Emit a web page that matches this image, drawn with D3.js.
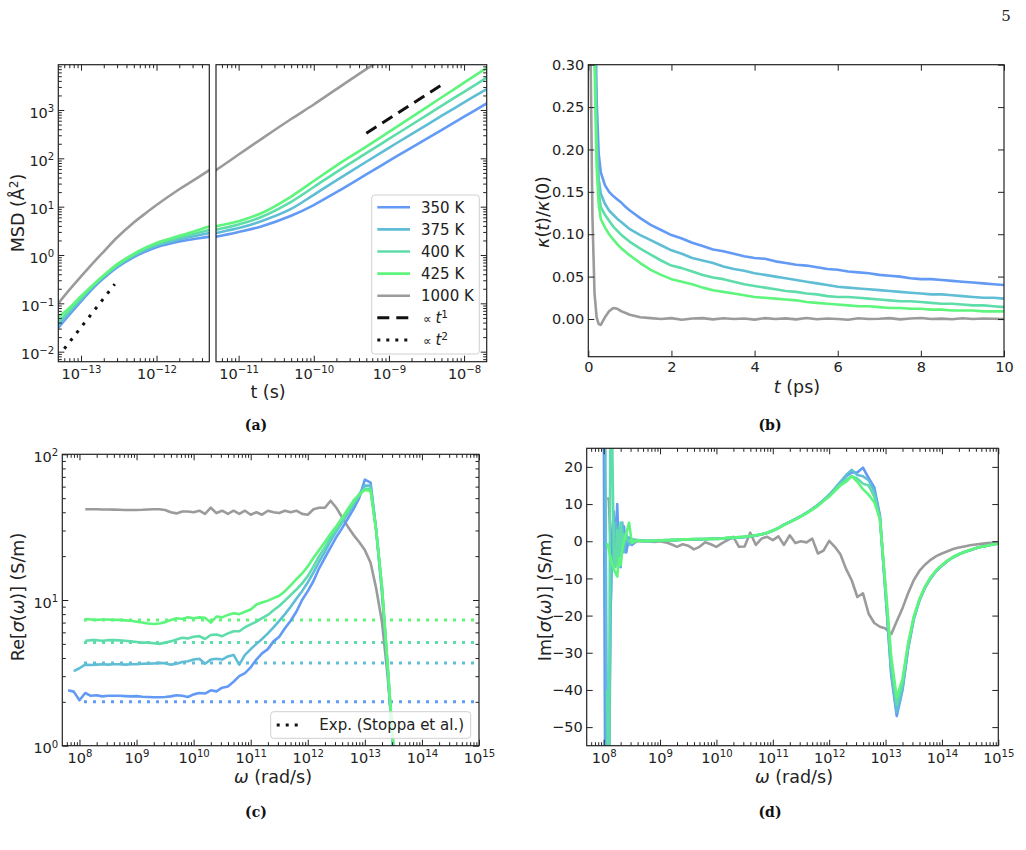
<!DOCTYPE html>
<html>
<head>
<meta charset="utf-8">
<script src="https://cdn.jsdelivr.net/npm/d3@7/dist/d3.min.js"></script>
<style>
  body { margin: 0; background: #fff; }
</style>
</head>
<body>
<script>
// ---------------- data ----------------
var temps = ['350 K', '375 K', '400 K', '425 K', '1000 K'];
var colors = ['#639af5', '#5fbdd5', '#5edcaa', '#5ef57c', '#9b9b9b'];

// (a) MSD (A^2) vs t (s)
var msdTime = [5e-14, 7e-14, 1e-13, 1.5e-13, 2e-13, 3e-13, 5e-13, 7e-13, 1e-12, 2e-12, 3e-12, 5e-12,
  1e-11, 2e-11, 5e-11, 1e-10, 2e-10, 5e-10, 1e-9, 2e-9, 5e-9, 1e-8, 2e-8];
var msd350 = [0.031, 0.058, 0.11, 0.22, 0.33, 0.55, 0.9, 1.17, 1.45, 1.9, 2.12, 2.4,
  3.0, 3.9, 6.5, 10.8, 19.9, 46.5, 88.5, 167, 385, 725, 1370];
var msd375 = [0.035, 0.064, 0.12, 0.235, 0.35, 0.58, 0.96, 1.25, 1.56, 2.1, 2.42, 2.85,
  3.6, 5.0, 9.0, 17.6, 35, 85, 165, 318, 752, 1434, 2710];
var msd400 = [0.042, 0.07, 0.13, 0.245, 0.37, 0.61, 1.01, 1.32, 1.66, 2.3, 2.7, 3.3,
  4.3, 6.1, 12.6, 25.5, 52, 128, 252, 495, 1213, 2380, 4670];
var msd425 = [0.052, 0.08, 0.14, 0.255, 0.38, 0.64, 1.06, 1.4, 1.78, 2.5, 3.0, 3.9,
  5.0, 7.3, 16.2, 34, 70.8, 175, 352, 712, 1814, 3670, 7420];
var msd1000 = [0.1, 0.19, 0.36, 0.73, 1.18, 2.3, 4.7, 7.1, 10.8, 22.9, 34, 57,
  120, 250, 650, 1300, 2700, 7000, 14000, 28000, 70000, 140000, 280000];
var slope1Ref = [[5e-10, 330], [5e-9, 3300]];
var slope2Ref = [[6e-14, 0.0115], [2.8e-13, 0.25]];

// (b) kappa(t)/kappa(0) vs t (ps)
var kappaTime = [0, 0.05, 0.1, 0.15, 0.2, 0.25, 0.3, 0.4, 0.5, 0.6, 0.7, 0.8, 0.9, 1.0,
  1.25, 1.5, 1.75, 2.0, 2.25, 2.5, 2.75, 3.0, 3.25, 3.5, 3.75, 4.0, 4.25, 4.5, 4.75, 5.0,
  5.25, 5.5, 5.75, 6.0, 6.25, 6.5, 6.75, 7.0, 7.25, 7.5, 7.75, 8.0, 8.25, 8.5, 8.75, 9.0,
  9.25, 9.5, 9.75, 10.0];
var kappa350 = [1.0, 0.93, 0.72, 0.42, 0.26, 0.195, 0.173, 0.158, 0.150, 0.145, 0.141, 0.137, 0.132, 0.128,
  0.119, 0.111, 0.105, 0.099, 0.095, 0.090, 0.086, 0.082, 0.080, 0.077, 0.074, 0.072, 0.071, 0.068, 0.066, 0.064,
  0.063, 0.061, 0.059, 0.058, 0.056, 0.055, 0.054, 0.052, 0.051, 0.050, 0.048, 0.047, 0.047, 0.046, 0.045, 0.044,
  0.043, 0.042, 0.041, 0.040];
var kappa375 = [1.0, 0.92, 0.68, 0.36, 0.22, 0.165, 0.148, 0.136, 0.128, 0.123, 0.118, 0.114, 0.110, 0.106,
  0.099, 0.093, 0.087, 0.081, 0.077, 0.072, 0.069, 0.066, 0.062, 0.059, 0.057, 0.054, 0.052, 0.050, 0.048, 0.046,
  0.044, 0.042, 0.040, 0.038, 0.037, 0.036, 0.035, 0.034, 0.033, 0.032, 0.031, 0.030, 0.029, 0.029, 0.028, 0.027,
  0.026, 0.025, 0.025, 0.024];
var kappa400 = [1.0, 0.91, 0.65, 0.33, 0.2, 0.15, 0.132, 0.123, 0.116, 0.109, 0.104, 0.099, 0.095, 0.091,
  0.083, 0.076, 0.069, 0.063, 0.060, 0.056, 0.052, 0.049, 0.047, 0.044, 0.041, 0.039, 0.037, 0.035, 0.033, 0.032,
  0.030, 0.029, 0.027, 0.026, 0.026, 0.025, 0.024, 0.023, 0.022, 0.021, 0.021, 0.020, 0.019, 0.018, 0.018, 0.017,
  0.016, 0.016, 0.015, 0.014];
var kappa425 = [1.0, 0.9, 0.62, 0.3, 0.18, 0.135, 0.118, 0.108, 0.100, 0.094, 0.088, 0.083, 0.079, 0.075,
  0.066, 0.058, 0.052, 0.047, 0.044, 0.041, 0.037, 0.034, 0.032, 0.030, 0.028, 0.026, 0.025, 0.024, 0.023, 0.022,
  0.020, 0.019, 0.018, 0.017, 0.016, 0.015, 0.015, 0.014, 0.013, 0.013, 0.012, 0.012, 0.011, 0.011, 0.010, 0.010,
  0.010, 0.009, 0.009, 0.009];
var kappa1000 = [1.0, 0.33, 0.12, 0.03, 0.002, -0.006, -0.007, 0.002, 0.009, 0.013, 0.012, 0.009, 0.007, 0.005,
  0.002, 0.001, 0.0, 0.001, -0.001, 0.0005, 0.001, -0.0005, 0.0008, 0.0, 0.0005, -0.0008, 0.001, 0.0, 0.0007, -0.0005,
  0.0012, -0.0003, 0.0005, 0.0, -0.001, 0.0008, 0.0, 0.0003, 0.001, -0.0005, 0.0005, 0.0012, 0.0, 0.0004, -0.0003, 0.0008,
  0.0, 0.0005, 0.0002, 0.0];

// (c) Re[sigma(omega)] (S/m) vs omega (rad/s)
var omegaRe = [6.31e7, 7.94e7, 1e8, 1.26e8, 1.58e8, 2e8, 2.51e8, 3.16e8, 3.98e8, 5.01e8, 6.31e8, 7.94e8,
  1e9, 1.26e9, 1.58e9, 2e9, 2.51e9, 3.16e9, 3.98e9, 5.01e9, 6.31e9, 7.94e9,
  1e10, 1.26e10, 1.58e10, 2e10, 2.51e10, 3.16e10, 3.98e10, 5.01e10, 6.31e10, 7.94e10,
  1e11, 1.26e11, 1.58e11, 2e11, 2.51e11, 3.16e11, 3.98e11, 5.01e11, 6.31e11, 7.94e11,
  1e12, 1.26e12, 1.58e12, 2e12, 2.51e12, 3.16e12, 3.98e12, 5.01e12, 6.31e12, 7.94e12,
  1e13, 1.26e13, 1.58e13, 2e13, 2.51e13, 3.16e13];
var re350 = [2.4, 2.35, 2.05, 2.3, 2.2, 2.22, 2.18, 2.2, 2.2, 2.2, 2.19, 2.18,
  2.19, 2.17, 2.16, 2.15, 2.15, 2.16, 2.18, 2.22, 2.2, 2.16,
  2.25, 2.3, 2.28, 2.4, 2.36, 2.5, 2.55, 2.75, 3.0, 3.15,
  3.45, 3.9, 4.3, 4.6, 5.2, 5.6, 6.4, 7.2, 8.3, 10.0,
  11.5, 13.5, 16.5, 19.5, 23, 27, 31, 36, 42, 50,
  67, 64, 30, 11, 3.3, 0.9];
var re375 = [null, 3.25, 3.4, 3.6, 3.58, 3.6, 3.62, 3.6, 3.62, 3.62, 3.6, 3.62,
  3.63, 3.65, 3.66, 3.67, 3.7, 3.68, 3.6, 3.65, 3.75, 3.8,
  3.9, 3.95, 3.65, 3.9, 3.95, 3.9, 4.1, 4.2, 3.6, 4.2,
  4.6, 5.0, 5.4, 5.9, 6.5, 7.2, 8.0, 9.0, 10.2, 11.5,
  13.2, 15.5, 18.3, 21.5, 25.5, 29.5, 34, 39, 45, 53,
  61, 61, 30, 12, 3.4, 0.9];
var re400 = [null, null, null, 5.25, 5.3, 5.3, 5.25, 5.3, 5.3, 5.28, 5.25, 5.2,
  5.15, 5.1, 5.1, 5.05, 5.0, 5.1, 5.2, 5.35, 5.5, 5.45,
  5.6, 5.65, 5.4, 5.75, 5.8, 5.65, 5.9, 6.1, 6.1, 6.5,
  6.8, 7.1, 7.5, 7.9, 8.5, 9.1, 9.9, 10.8, 11.8, 13.0,
  14.6, 17, 20, 23, 27, 30.5, 35, 40, 46, 52,
  58, 58, 30, 12, 3.5, 0.95];
var re425 = [null, null, null, 7.4, 7.35, 7.3, 7.35, 7.35, 7.3, 7.3, 7.25, 7.2,
  7.1, 7.0, 6.9, 6.85, 6.9, 7.05, 7.3, 7.5, 7.4, 7.6,
  7.5, 7.6, 7.55, 7.0, 7.7, 7.6, 7.9, 8.1, 8.0, 8.3,
  8.6, 9.3, 9.6, 9.9, 10.3, 10.7, 11.5, 12.6, 13.9, 15.2,
  17.0, 19.5, 22, 25, 28.5, 32, 36.5, 42, 48, 53,
  57, 56, 30, 12, 3.6, 1.0];
var re1000 = [null, null, null, 42, 42, 42, 41.8, 41.8, 41.7, 41.6, 41.5, 41.5,
  41.5, 41.6, 41.8, 42, 42, 41.5, 40, 39.3, 40.5, 40.5,
  40, 41, 39, 43, 39.5, 41, 39, 41, 39, 41,
  38.5, 40, 38.5, 41, 40, 39.5, 41, 40, 41, 39,
  38.5, 42, 43, 43, 48, 43, 37, 32, 28, 25,
  22, 18, 12, 7, 3, 1.0];
var expSigma = [2.0, 3.7, 5.1, 7.3];
var expRange = [1.2e8, 1e15];

// (d) Im[sigma(omega)] (S/m) vs omega (rad/s)
var omegaIm = [1e8, 1.07e8, 1.15e8, 1.23e8, 1.32e8, 1.41e8, 1.51e8, 1.62e8, 1.74e8, 1.86e8, 2e8, 2.14e8,
  2.29e8, 2.51e8, 2.82e8, 3.16e8,
  3.98e8, 5.01e8, 6.31e8, 7.94e8,
  1e9, 1.26e9, 1.58e9, 2e9, 2.51e9, 3.16e9, 3.98e9, 5.01e9, 6.31e9, 7.94e9,
  1e10, 1.26e10, 1.58e10, 2e10, 2.51e10, 3.16e10, 3.98e10, 5.01e10, 6.31e10, 7.94e10,
  1e11, 1.26e11, 1.58e11, 2e11, 2.51e11, 3.16e11, 3.98e11, 5.01e11, 6.31e11, 7.94e11,
  1e12, 1.26e12, 1.58e12, 2e12, 2.51e12, 3.16e12, 3.98e12, 5.01e12, 6.31e12, 7.94e12,
  1e13, 1.26e13, 1.58e13, 2e13, 2.51e13, 3.16e13, 3.98e13, 5.01e13, 6.31e13, 7.94e13,
  1e14, 1.26e14, 1.58e14, 2e14, 2.51e14, 3.16e14, 3.98e14, 5.01e14, 6.31e14, 7.94e14,
  1e15];
var im350 = [40, -75, -70, -62, -20, 2, 8, -3, 10, -4, -7, 3, 4, -3, 1, -1,
  0.2, 0.0, 0.1, 0.1,
  0.2, 0.2, 0.3, 0.3, 0.4, 0.5, 0.5, 0.5, 0.6, 0.6,
  0.6, 0.7, 0.8, 0.9, 1.0, 1.1, 1.3, 1.5, 1.8, 2.2,
  2.8, 3.6, 4.4, 5.2, 5.9, 6.7, 7.6, 8.6, 9.7, 11.0,
  12.4, 14.0, 15.8, 17.5, 18.5, 18.5, 19.8, 17.0, 14.5, 7.0,
  -14, -36, -47, -40, -29, -21, -16, -12.5, -10, -8,
  -6.6, -5.3, -4.3, -3.5, -2.9, -2.4, -1.9, -1.5, -1.2, -0.9,
  -0.6];
var im375 = [null, 25, -65, -80, -20, -4, -7, 5, -6, 4, -4, 5, -3, 2, -1, 0.5,
  0.3, 0.1, 0.0, 0.1,
  0.2, 0.3, 0.3, 0.4, 0.4, 0.5, 0.6, 0.6, 0.6, 0.7,
  0.7, 0.8, 0.8, 1.0, 1.0, 1.2, 1.4, 1.6, 1.9, 2.3,
  2.9, 3.6, 4.5, 5.2, 6.0, 6.8, 7.7, 8.7, 9.8, 11.1,
  12.5, 14.2, 16.0, 17.8, 19.2, 17.8, 17.5, 16.4, 13.5, 6.5,
  -14, -35, -46, -39.5, -28.7, -20.9, -15.9, -12.4, -9.9, -7.9,
  -6.5, -5.3, -4.3, -3.5, -2.9, -2.4, -1.9, -1.5, -1.2, -0.9,
  -0.6];
var im400 = [null, null, -40, -80, 40, 30, -4, -7, 3, -5, 5, -2, 2, 1, 0, 0.3,
  0.1, 0.2, 0.1, 0.0,
  0.2, 0.2, 0.3, 0.3, 0.4, 0.4, 0.5, 0.6, 0.5, 0.6,
  0.7, 0.7, 0.9, 0.9, 1.1, 1.2, 1.3, 1.6, 1.9, 2.3,
  2.8, 3.5, 4.4, 5.1, 5.9, 6.7, 7.6, 8.6, 9.6, 10.9,
  12.2, 13.8, 15.4, 16.5, 17.5, 16.8, 15.5, 15.0, 12.0, 6.0,
  -13, -33, -44, -38, -28, -20.6, -15.8, -12.3, -9.8, -7.9,
  -6.5, -5.2, -4.3, -3.5, -2.9, -2.4, -1.9, -1.5, -1.2, -0.9,
  -0.6];
var im425 = [null, null, -0.5, -2, -4.5, -6, -7.5, -8.5, -9.5, -4.5, -6.5, -2, 0, 2, 5, -0.5,
  0.3, 0.0, 0.1, 0.2,
  0.2, 0.3, 0.3, 0.4, 0.5, 0.5, 0.6, 0.6, 0.6, 0.7,
  0.6, 0.7, 1.0, 0.9, 1.1, 1.2, 1.4, 1.6, 1.8, 2.3,
  2.9, 3.6, 4.4, 5.2, 5.9, 6.7, 7.5, 8.5, 9.5, 10.8,
  12.0, 13.5, 15.0, 16.0, 17.5, 16.0, 14.0, 12.5, 10.5, 6.0,
  -12, -31, -42, -37, -27.5, -20.3, -15.6, -12.2, -9.7, -7.8,
  -6.4, -5.2, -4.2, -3.5, -2.9, -2.3, -1.9, -1.5, -1.2, -0.9,
  -0.6];
var im1000 = [null, null, 11.5, 11.5, 0, -5, 2, 4, -3, 1, 2, -1, 0, 0.5, 0, 0,
  0, 0.1, 0, -0.2,
  0, -0.3, -0.8, -1.5, -0.8, -1.2, -2.2, -1.5, -0.3, -0.8,
  -1.5, -0.5, 0.3, 1.2, -1.5, -1.4, 2.3, -1.0, 0.7, 1.2,
  0.3, 1.3, -1.0, 1.6, -0.5, 0.0, -0.3, 0.7, -3.3, -2.5,
  0.1, -1.5, -3.5, -7.5, -10.5, -15, -14, -19.5, -22, -23,
  -23.5, -25, -21.5, -18, -14, -10.5, -8, -6.3, -5, -4,
  -3.3, -2.7, -2.1, -1.7, -1.4, -1.1, -0.9, -0.7, -0.5, -0.4,
  -0.3];

var msdSeries = [msd350, msd375, msd400, msd425, msd1000];
var kappaSeries = [kappa350, kappa375, kappa400, kappa425, kappa1000];
var reSeries = [re350, re375, re400, re425, re1000];
var imSeries = [im350, im375, im400, im425, im1000];

// ---------------- drawing ----------------
var ink = '#222';
var font = '"DejaVu Sans", sans-serif';
var svg = d3.select('body').append('svg').attr('width', 1026).attr('height', 850)
  .attr('font-family', font);
svg.append('rect').attr('width', 1026).attr('height', 850).attr('fill', '#fff');
var defs = svg.append('defs');

function plotArea(id, x, y) {
  defs.append('clipPath').attr('id', id).append('rect')
    .attr('x', x.range()[0]).attr('y', y.range()[1])
    .attr('width', x.range()[1] - x.range()[0]).attr('height', y.range()[0] - y.range()[1]);
  return svg.append('g').attr('clip-path', 'url(#' + id + ')');
}

function frame(x, y) {
  svg.append('rect').attr('x', x.range()[0]).attr('y', y.range()[1])
    .attr('width', x.range()[1] - x.range()[0]).attr('height', y.range()[0] - y.range()[1])
    .attr('fill', 'none').attr('stroke', ink).attr('stroke-width', 1.2);
}

function powText(text, v) {
  var e = Math.round(Math.log10(v));
  text.text(null);
  text.append('tspan').text('10');
  text.append('tspan').attr('dy', '-0.55em').attr('font-size', '0.7em').text(e < 0 ? '\u2212' + (-e) : String(e));
}

function ticks(orient, scale, pos, values, size, fmt, pad) {
  var maker = {bottom: d3.axisBottom, top: d3.axisTop, left: d3.axisLeft, right: d3.axisRight}[orient];
  var horiz = orient === 'bottom' || orient === 'top';
  var g = svg.append('g')
    .attr('transform', horiz ? 'translate(0,' + pos + ')' : 'translate(' + pos + ',0)')
    .call(maker(scale).tickValues(values).tickSizeInner(-size).tickSizeOuter(0)
      .tickPadding(pad || 5).tickFormat(typeof fmt === 'function' ? fmt : function () { return ''; }));
  g.attr('font-family', font).attr('font-size', 14.5).style('color', ink);
  g.select('.domain').remove();
  g.selectAll('.tick line').attr('stroke-width', 1);
  if (fmt === 'pow') {
    g.selectAll('.tick text').each(function (d) { powText(d3.select(this), d); });
    if (!horiz) g.selectAll('.tick text').attr('dy', '0.5em');
  }
  if (!fmt) g.selectAll('.tick text').remove();
  return g;
}

function majorLog(dom) {
  var out = [];
  for (var k = Math.ceil(Math.log10(dom[0]) - 1e-9); k <= Math.floor(Math.log10(dom[1]) + 1e-9); k++) out.push(Math.pow(10, k));
  return out;
}
function minorLog(dom) {
  var out = [];
  for (var k = Math.floor(Math.log10(dom[0])); k <= Math.floor(Math.log10(dom[1])); k++) {
    for (var m = 2; m <= 9; m++) {
      var v = m * Math.pow(10, k);
      if (v > dom[0] * 1.001 && v < dom[1] * 0.999) out.push(v);
    }
  }
  return out;
}

function logXAxis(x, y, pad) {
  var dom = x.domain();
  ticks('bottom', x, y.range()[0], majorLog(dom), 6, 'pow', pad);
  ticks('bottom', x, y.range()[0], minorLog(dom), 3.5, null);
  ticks('top', x, y.range()[1], majorLog(dom), 6, null);
  ticks('top', x, y.range()[1], minorLog(dom), 3.5, null);
}
function logYAxis(y, pos, side, labels) {
  var dom = y.domain();
  ticks(side, y, pos, majorLog(dom), 6, labels ? 'pow' : null, 4);
  ticks(side, y, pos, minorLog(dom), 3.5, null);
}

function label(x, y, rotate, parts, size) {
  var t = svg.append('text').attr('text-anchor', 'middle').attr('font-size', size || 17.5).attr('fill', ink)
    .attr('transform', 'translate(' + x + ',' + y + ')' + (rotate ? ' rotate(-90)' : ''))
    .attr('dy', '0.35em');
  parts.forEach(function (p) {
    var s = t.append('tspan').text(p.t);
    if (p.i) s.attr('font-style', 'italic');
    if (p.sup) s.attr('dy', '-0.5em').attr('font-size', '0.7em');
    if (p.after) s.attr('dy', '0.35em');
  });
  return t;
}

function caption(x, y, txt) {
  svg.append('text').attr('x', x).attr('y', y).attr('dy', '0.35em').attr('text-anchor', 'middle')
    .attr('font-family', '"DejaVu Serif", serif').attr('font-weight', 'bold').attr('font-size', 14)
    .attr('fill', '#111').text(txt);
}

function seriesLine(x, y, curve) {
  return d3.line()
    .defined(function (d) { return d[1] !== null && isFinite(y(d[1])); })
    .x(function (d) { return x(d[0]); })
    .y(function (d) { return y(d[1]); })
    .curve(curve || d3.curveLinear);
}

function drawSeries(area, xs, series, order, x, y, curve) {
  var line = seriesLine(x, y, curve);
  order.forEach(function (i) {
    area.append('path').datum(d3.zip(xs, series[i]))
      .attr('d', line).attr('fill', 'none').attr('stroke', colors[i])
      .attr('stroke-width', 2.6).attr('stroke-linejoin', 'round');
  });
}

// ---- (a) MSD ----
var aY = d3.scaleLog().domain([0.0062, 8650]).range([361.7, 64.7]);
var aXL = d3.scaleLog().domain([5e-14, 5e-12]).range([58.3, 209.3]);
var aXR = d3.scaleLog().domain([5e-12, 2e-8]).range([216, 486.7]);
[[aXL, 'clipAL'], [aXR, 'clipAR']].forEach(function (p) {
  var x = p[0];
  var area = plotArea(p[1], x, aY);
  drawSeries(area, msdTime, msdSeries, [0, 1, 2, 3, 4], x, aY, d3.curveCatmullRom.alpha(0.5));
  var ref = seriesLine(x, aY);
  area.append('path').datum(slope1Ref).attr('d', ref).attr('fill', 'none')
    .attr('stroke', '#111').attr('stroke-width', 3).attr('stroke-dasharray', '12,7');
  area.append('path').datum(slope2Ref).attr('d', ref).attr('fill', 'none')
    .attr('stroke', '#111').attr('stroke-width', 3).attr('stroke-dasharray', '3,7');
  logXAxis(x, aY, 7);
});
logYAxis(aY, 58.3, 'left', true);
logYAxis(aY, 486.7, 'right', false);
frame(aXL, aY);
frame(aXR, aY);

// legend (a)
var legA = svg.append('g');
legA.append('rect').attr('x', 371.7).attr('y', 195).attr('width', 107.6).attr('height', 159).attr('rx', 3)
  .attr('fill', '#fff').attr('fill-opacity', 0.8).attr('stroke', '#d0d0d0');
var legRows = temps.map(function (t, i) { return {name: t, color: colors[i], dash: null}; });
legRows.push({sym: '1', color: '#111', dash: '12,7'});
legRows.push({sym: '2', color: '#111', dash: '3,6'});
legRows.forEach(function (r, i) {
  var yy = 207.3 + i * 22.1;
  legA.append('line').attr('x1', 377.3).attr('x2', 410).attr('y1', yy).attr('y2', yy)
    .attr('stroke', r.color).attr('stroke-width', r.dash ? 3 : 2.6).attr('stroke-dasharray', r.dash);
  var t = legA.append('text').attr('x', r.name ? 421 : 423).attr('y', yy).attr('dy', '0.36em')
    .attr('font-size', 15).attr('fill', ink);
  if (r.name) {
    t.text(r.name);
  } else {
    t.append('tspan').text('\u221d ').attr('font-size', 12);
    t.append('tspan').text('t').attr('font-style', 'italic');
    t.append('tspan').text(r.sym).attr('dy', '-0.5em').attr('font-size', '0.7em');
  }
});

label(18, 213, true, [{t: 'MSD (\u00c5'}, {t: '2', sup: true}, {t: ')', after: true}]);
label(268, 391.7, false, [{t: 't (s)'}]);

// ---- (b) kappa ----
var bX = d3.scaleLinear().domain([0, 10]).range([588.3, 1004]);
var bY = d3.scaleLinear().domain([-0.0445, 0.30]).range([356.7, 64.7]);
var bArea = plotArea('clipB', bX, bY);
drawSeries(bArea, kappaTime, kappaSeries, [0, 1, 2, 3, 4], bX, bY);
var bxt = [0, 2, 4, 6, 8, 10], byt = [0, 0.05, 0.1, 0.15, 0.2, 0.25, 0.3];
ticks('bottom', bX, 356.7, bxt, 6, d3.format('d'), 5);
ticks('top', bX, 64.7, bxt, 6, null);
ticks('left', bY, 588.3, byt, 6, d3.format('.2f'), 4);
ticks('right', bY, 1004, byt, 6, null);
frame(bX, bY);
label(543, 212, true, [{t: '\u03ba', i: 1}, {t: '('}, {t: 't', i: 1}, {t: ')/'}, {t: '\u03ba', i: 1}, {t: '(0)'}]);
label(797, 387, false, [{t: 't', i: 1}, {t: ' (ps)'}]);

// ---- (c) Re sigma ----
var cX = d3.scaleLog().domain([5e7, 1e15]).range([62.3, 479]);
var cY = d3.scaleLog().domain([1, 100]).range([745.7, 454.3]);
var cArea = plotArea('clipC', cX, cY);
expSigma.forEach(function (v, i) {
  cArea.append('line').attr('x1', cX(expRange[0])).attr('x2', cX(expRange[1]))
    .attr('y1', cY(v)).attr('y2', cY(v)).attr('stroke', colors[i])
    .attr('stroke-width', 3).attr('stroke-dasharray', '3,6');
});
drawSeries(cArea, omegaRe, reSeries, [4, 0, 1, 2, 3], cX, cY);
logXAxis(cX, cY, 7);
logYAxis(cY, 62.3, 'left', true);
logYAxis(cY, 479, 'right', false);
frame(cX, cY);
var legC = svg.append('g');
legC.append('rect').attr('x', 270.7).attr('y', 711.7).attr('width', 200).attr('height', 26.6).attr('rx', 3)
  .attr('fill', '#fff').attr('fill-opacity', 0.8).attr('stroke', '#d0d0d0');
legC.append('line').attr('x1', 276.7).attr('x2', 303.3).attr('y1', 725).attr('y2', 725)
  .attr('stroke', '#111').attr('stroke-width', 3).attr('stroke-dasharray', '3,6');
legC.append('text').attr('x', 319.3).attr('y', 725).attr('dy', '0.36em').attr('font-size', 15)
  .attr('fill', ink).text('Exp. (Stoppa et al.)');
label(18, 597, true, [{t: 'Re['}, {t: '\u03c3', i: 1}, {t: '('}, {t: '\u03c9', i: 1}, {t: ')] (S/m)'}]);
label(273, 776.7, false, [{t: '\u03c9', i: 1}, {t: ' (rad/s)'}]);

// ---- (d) Im sigma ----
var dX = d3.scaleLog().domain([5e7, 1e15]).range([586.7, 998.3]);
var dY = d3.scaleLinear().domain([-55, 25]).range([745.7, 448.3]);
var dArea = plotArea('clipD', dX, dY);
drawSeries(dArea, omegaIm, imSeries, [4, 0, 1, 2, 3], dX, dY);
logXAxis(dX, dY, 7);
var dyt = [-50, -40, -30, -20, -10, 0, 10, 20];
ticks('left', dY, 586.7, dyt, 6, d3.format('d'), 4);
ticks('right', dY, 998.3, dyt, 6, null);
frame(dX, dY);
label(545, 597, true, [{t: 'Im['}, {t: '\u03c3', i: 1}, {t: '('}, {t: '\u03c9', i: 1}, {t: ')] (S/m)'}]);
label(794, 776.7, false, [{t: '\u03c9', i: 1}, {t: ' (rad/s)'}]);

// captions and page number
caption(256, 425, '(a)');
caption(770, 425, '(b)');
caption(256, 812, '(c)');
caption(770, 812, '(d)');
svg.append('text').attr('x', 1006).attr('y', 16).attr('dy', '0.35em').attr('text-anchor', 'middle')
  .attr('font-family', '"DejaVu Serif", serif').attr('font-size', 15).attr('fill', ink).text('5');
</script>
</body>
</html>
